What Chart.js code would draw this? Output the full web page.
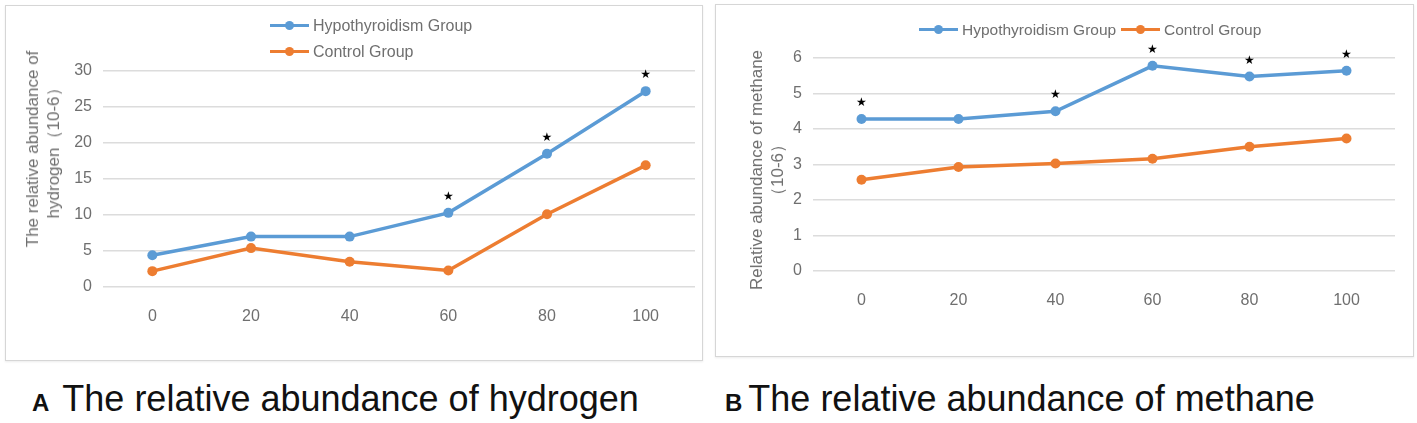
<!DOCTYPE html>
<html lang="en">
<head>
    <meta charset="UTF-8">
    <title>Relative abundance of hydrogen and methane</title>
    <script src="https://cdn.jsdelivr.net/npm/chart.js"></script>
    <style>
        body {
            margin: 0;
            width: 1417px;
            height: 423px;
            background: white;
            font-family: "Liberation Sans", Arial, sans-serif;
            position: relative;
            overflow: hidden;
        }
        .panel {
            position: absolute;
            border: 1px solid #d6d6d6;
            box-shadow: 0 1px 2px rgba(0, 0, 0, 0.08);
            background: white;
        }
        .panel canvas {
            position: absolute;
            left: 0;
            top: 0;
        }
        .ytitle {
            position: absolute;
            transform: translate(-50%, -50%) rotate(-90deg);
            white-space: nowrap;
            text-align: center;
            font-size: 17px;
            line-height: 21px;
            color: #6f6f6f;
        }
        .legend {
            position: absolute;
            font-size: 16px;
            color: #6f6f6f;
        }
        .legend .item {
            position: absolute;
            white-space: nowrap;
            height: 20px;
            line-height: 20px;
        }
        .legend .swatch {
            position: absolute;
            left: 0;
            top: 8px;
            width: 39px;
            height: 3px;
        }
        .legend .dot {
            position: absolute;
            left: 15px;
            top: 5px;
            width: 9px;
            height: 9px;
            border-radius: 50%;
        }
        .legend .label {
            position: absolute;
            left: 43px;
            top: 0;
        }
        .caption {
            position: absolute;
            top: 378px;
            font-size: 36px;
            color: #111;
            white-space: nowrap;
        }
        .caption b {
            font-size: 24px;
        }
    </style>
</head>
<body>
    <div class="panel" style="left:5px; top:5px; width:696px; height:354px;">
        <canvas id="hidrogeno"></canvas>
    </div>
    <div class="panel" style="left:715px; top:4px; width:697px; height:351px;">
        <canvas id="metano"></canvas>
    </div>

    <div class="ytitle" style="left:43px; top:149px;">The relative abundance of<br>hydrogen（10-6）</div>
    <div class="ytitle" style="left:767px; top:170px;">Relative abundance of methane<br>（10-6）</div>

    <div class="legend" id="leyendaA"></div>
    <div class="legend" id="leyendaB" style="font-size:15.5px;"></div>

    <div class="caption" style="left:32px;"><b style="margin-right:13px;">A</b>The relative abundance of hydrogen</div>
    <div class="caption" style="left:725px;"><b style="margin-right:6px;">B</b>The relative abundance of methane</div>

    <script>
        // datos
        let categorias = ['0', '20', '40', '60', '80', '100'];
        let nombres = ['Hypothyroidism Group', 'Control Group'];
        let colores = ['#5B9BD5', '#ED7D31'];

        let hidrogenoHipo = [4.4, 7.0, 7.0, 10.3, 18.5, 27.2];
        let hidrogenoControl = [2.2, 5.4, 3.5, 2.3, 10.1, 16.9];
        let estrellasHidrogeno = [false, false, false, true, true, true];
        let ticksHidrogeno = [0, 5, 10, 15, 20, 25, 30];

        let metanoHipo = [4.28, 4.28, 4.5, 5.78, 5.48, 5.64];
        let metanoControl = [2.57, 2.93, 3.03, 3.16, 3.5, 3.73];
        let estrellasMetano = [true, false, true, true, true, true];
        let ticksMetano = [0, 1, 2, 3, 4, 5, 6];

        Chart.defaults.font.family = '"Liberation Sans", Arial, sans-serif';
        Chart.defaults.font.size = 16;
        Chart.defaults.color = '#6f6f6f';

        // dibuja las estrellas encima de la serie del grupo hipotiroideo
        let pluginEstrellas = {
            id: 'estrellas',
            afterDatasetsDraw(chart, args, opts) {
                let meta = chart.getDatasetMeta(0);
                let ctx = chart.ctx;
                ctx.save();
                ctx.font = '12px "DejaVu Sans"';
                ctx.fillStyle = '#000';
                ctx.textAlign = 'center';
                ctx.textBaseline = 'middle';
                opts.marcas.forEach((m, i) => {
                    if (m) {
                        let p = meta.data[i];
                        ctx.fillText('★', p.x, p.y - 16);
                    }
                });
                ctx.restore();
            }
        };

        function crearGrafico(id, ancho, alto, serieA, serieB, estrellas, ticks, caja) {
            let canvas = document.getElementById(id);
            canvas.width = ancho;
            canvas.height = alto;
            return new Chart(canvas.getContext('2d'), {
                type: 'line',
                data: {
                    labels: categorias,
                    datasets: [serieA, serieB].map((serie, i) => ({
                        label: nombres[i],
                        data: serie,
                        borderColor: colores[i],
                        backgroundColor: colores[i],
                        borderWidth: 3.5,
                        pointRadius: 5,
                        pointBorderWidth: 0,
                        tension: 0,
                        fill: false
                    }))
                },
                options: {
                    responsive: false,
                    animation: false,
                    devicePixelRatio: 1,
                    layout: { padding: { top: caja.top, right: caja.right, left: 0, bottom: 0 } },
                    plugins: {
                        legend: { display: false },
                        tooltip: { enabled: false },
                        estrellas: { marcas: estrellas }
                    },
                    scales: {
                        x: {
                            offset: true,
                            grid: { display: false },
                            border: { display: false },
                            ticks: { padding: 12 },
                            afterFit(scale) { scale.height = caja.xAlto; }
                        },
                        y: {
                            min: ticks[0],
                            max: ticks[ticks.length - 1],
                            afterBuildTicks(scale) { scale.ticks = ticks.map(v => ({ value: v })); },
                            grid: { color: '#dcdcdc', lineWidth: 1.5, drawTicks: false },
                            border: { display: false },
                            ticks: { padding: 11 },
                            afterFit(scale) { scale.width = caja.yAncho; }
                        }
                    }
                },
                plugins: [pluginEstrellas]
            });
        }

        crearGrafico('hidrogeno', 696, 354, hidrogenoHipo, hidrogenoControl, estrellasHidrogeno, ticksHidrogeno,
            { top: 65, right: 7, xAlto: 73, yAncho: 97 });
        crearGrafico('metano', 697, 351, metanoHipo, metanoControl, estrellasMetano, ticksMetano,
            { top: 53, right: 18, xAlto: 85, yAncho: 97 });

        // leyendas con linea y punto, como en Excel
        function crearLeyenda(id, posiciones) {
            let cont = document.getElementById(id);
            cont.innerHTML = nombres.map((n, i) =>
                `<div class="item" style="left:${posiciones[i][0]}px; top:${posiciones[i][1]}px;">` +
                `<span class="swatch" style="background:${colores[i]}"></span>` +
                `<span class="dot" style="background:${colores[i]}"></span>` +
                `<span class="label">${n}</span></div>`
            ).join('');
        }

        crearLeyenda('leyendaA', [[270, 16], [270, 42]]);
        crearLeyenda('leyendaB', [[919, 20], [1121, 20]]);
    </script>
</body>
</html>
